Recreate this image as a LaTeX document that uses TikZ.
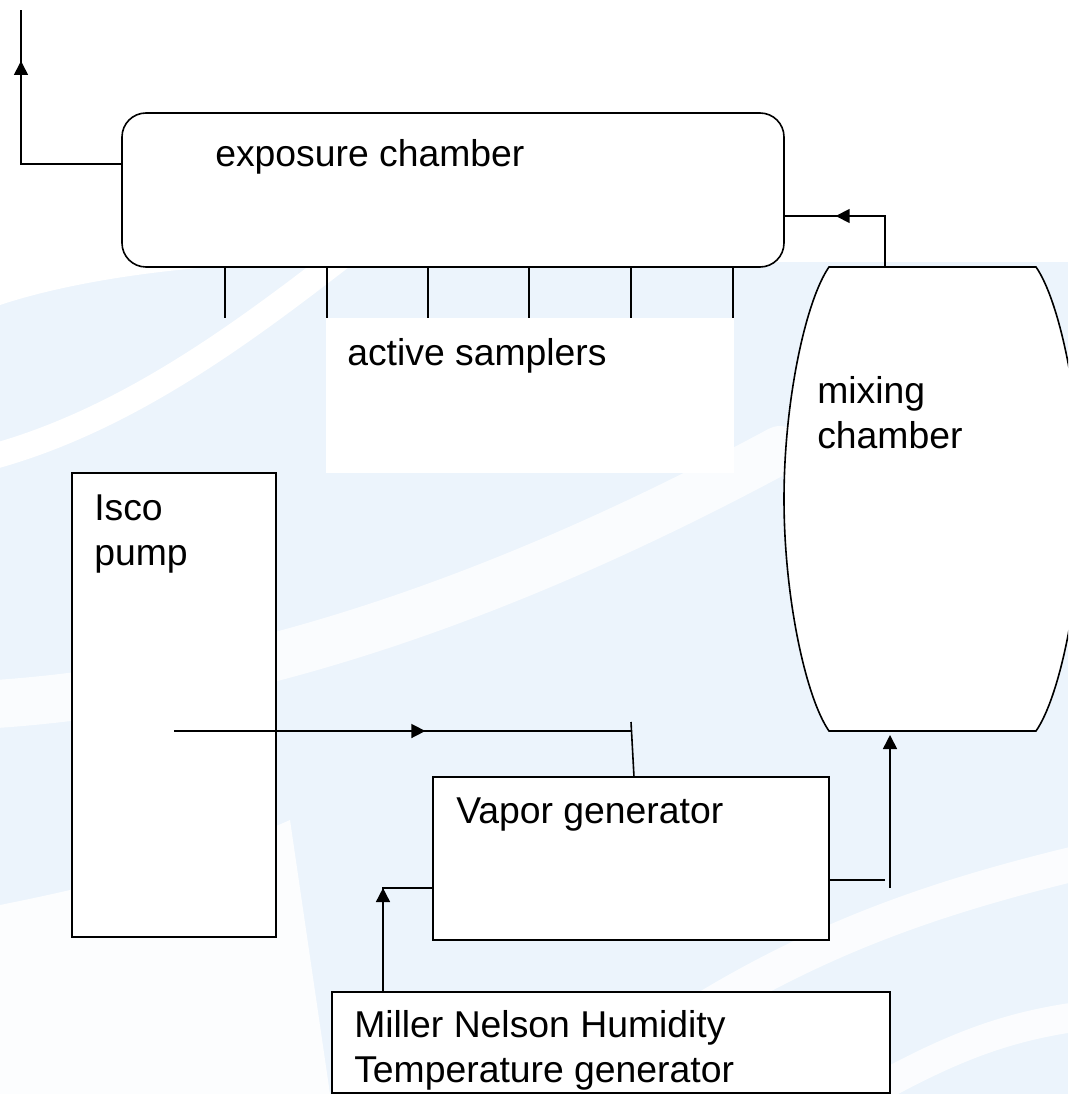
\documentclass[tikz,border=0pt]{standalone}
\usepackage{fontspec}
\setmainfont{Liberation Sans}
\usetikzlibrary{arrows.meta,decorations.markings,fit}
\definecolor{bgblue}{RGB}{236,244,252}
\tikzset{
  px/.style={x=0.75pt,y=-0.75pt},
  ln/.style={line width=1.2pt,black},
  box/.style={draw,ln,fill=white,inner sep=0pt,rectangle},
  lbl/.style={inner sep=0pt,anchor=base west,align=left,font=\fontsize{28}{33.5}\selectfont},
  tip/.style={-{Triangle[length=10.5pt,width=10.5pt]}},
  midarrow/.style={postaction={decorate},decoration={markings,mark=at position #1 with {\arrow{Triangle[length=10.5pt,width=10.5pt]}}}},
  swoosh/.style={draw=white,line cap=round},
}
\begin{document}
\begin{tikzpicture}[px]
\useasboundingbox (0,0) rectangle (1068,1094);
\clip (0,0) rectangle (1068,1094);
% background watermark
\fill[bgblue] (0,0) rectangle (1068,1094);
\fill[white] (0,0) -- (1068,0) -- (1068,262) -- (300,262) .. controls (160,266) and (60,285) .. (0,305) -- cycle;
\fill[white,opacity=0.85] (0,905) .. controls (100,885) and (200,860) .. (290,820) -- (330,1094) -- (0,1094) -- cycle;
\draw[swoosh,line width=19pt] (-20,460) .. controls (120,425) and (240,335) .. (340,258);
\draw[swoosh,line width=36pt,opacity=0.75] (-20,705) .. controls (250,690) and (520,590) .. (780,450);
\draw[swoosh,line width=26pt,opacity=0.8] (560,1110) .. controls (750,960) and (900,905) .. (1090,860);
\draw[swoosh,line width=22pt,opacity=0.8] (840,1110) .. controls (950,1045) and (1010,1025) .. (1090,1015);

% exposure chamber
\node[box,rounded corners=18pt,fit={(122,113) (784,267)}] (ec) {};
\node[lbl] (ecl) at (215,167) {exposure chamber};

% active samplers
\fill[white] (326,318) rectangle (734,473);
\node[lbl] (asl) at (347,365) {active samplers};
\foreach \x [count=\i] in {225,327,428,529,631,733}{
  \coordinate (s\i) at (\x,267);
  \draw[ln] (s\i) -- ++(0,51);
}

% mixing chamber
\draw[ln,fill=white] (829,267) -- (1036,267)
  .. controls (1059,300) and (1081,400) .. (1081,499)
  .. controls (1081,598) and (1059,698) .. (1036,731)
  -- (829,731)
  .. controls (806,698) and (784,598) .. (784,499)
  .. controls (784,400) and (806,300) .. (829,267) -- cycle;
\coordinate (mctop) at (885,267);
\coordinate (mcin) at (890,735);
\node[lbl] (mcl) at (817,448) {mixing\\chamber};

% Isco pump
\node[box,fit={(72,473) (276,937)}] (ip) {};
\node[lbl] (ipl) at (94,565) {Isco\\pump};

% Vapor generator
\node[box,fit={(433,777) (829,940)}] (vg) {};
\node[lbl] (vgl) at (456,823) {Vapor generator};

% Miller Nelson
\node[box,fit={(332,992) (890,1093)}] (mn) {};
\node[lbl] (mnl) at (354,1082) {Miller Nelson Humidity\\Temperature generator};

% connectors
\coordinate (ecout) at (122,164);
\coordinate (vent) at (21,10);
\draw[ln,midarrow=0.80] (ecout) -| (vent);

\coordinate (ecin) at (784,216);
\draw[ln,midarrow=0.66] (mctop) |- (ecin);

\coordinate (ipout) at (174,731);
\coordinate (pipe) at (631,731);
\draw[ln,midarrow=0.55] (ipout) -- (pipe);
\coordinate (vgtop) at (634,777);
\draw[ln] (vgtop) -- (631,722);

\coordinate (mnout) at (383,992);
\coordinate (vgleft) at (433,888);
\draw[ln,midarrow=0.675] (mnout) |- (vgleft);

\coordinate (vgright) at (829,880);
\draw[ln] (vgright) -- (885,880);
\coordinate (riser) at (890,888);
\draw[ln,tip] (riser) -- (mcin);
\end{tikzpicture}
\end{document}
